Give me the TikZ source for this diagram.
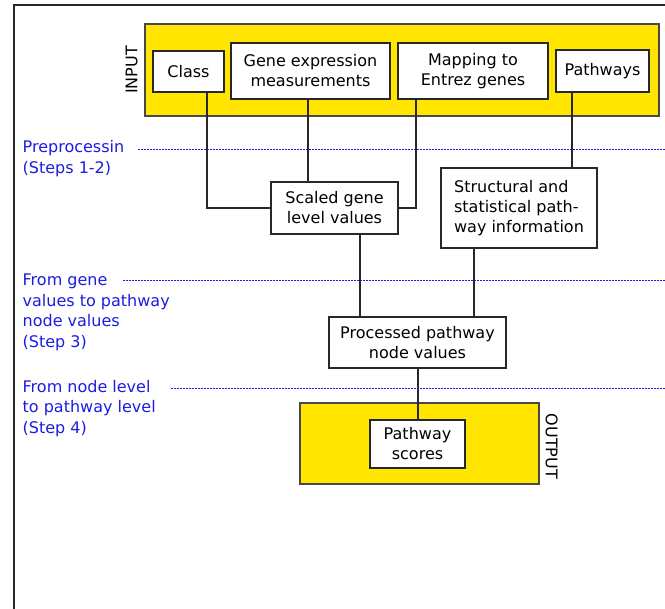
\documentclass[tikz,border=0pt]{standalone}
\usepackage{fontspec}
\setmainfont{DejaVu Sans}
\usetikzlibrary{calc}
\definecolor{yellowc}{RGB}{255,229,0}
\definecolor{lblue}{RGB}{28,28,225}
\definecolor{dk}{RGB}{40,40,40}
\begin{document}
\begin{tikzpicture}[x=1pt,y=-1pt,
  every node/.style={font=\fontsize{16}{20}\selectfont, inner sep=0pt},
  box/.style={draw=dk, line width=1.6pt, fill=white, align=center},
  ybox/.style={draw=dk!85, line width=1.3pt, fill=yellowc},
  conn/.style={draw=dk, line width=1.8pt},
  sepline/.style={draw=lblue, line width=1pt, dash pattern=on 2pt off 1pt},
  steptext/.style={text=lblue, align=left, anchor=base west, font=\fontsize{16}{20.5}\selectfont}]
\useasboundingbox (0,0) rectangle (665,609);
\draw[dk, line width=2pt] (13.5,609) -- (13.5,5.5) -- (665,5.5);

% input panel
\node[ybox, minimum width=514pt, minimum height=92pt] (input) at (402,70) {};
\node[rotate=90] (inlab) at (131.7,70) {INPUT};
\node[box, minimum width=71pt, minimum height=41pt] (class) at (188.5,71.5) {Class};
\node[box, minimum width=159pt, minimum height=56pt] (gene) at (310.5,71) {Gene expression\\measurements};
\node[box, minimum width=150pt, minimum height=56pt] (map) at (473,71) {Mapping to\\Entrez genes};
\node[box, minimum width=93pt, minimum height=42pt] (path) at (602.5,71) {Pathways};

% middle nodes
\node[box, minimum width=127pt, minimum height=52pt] (scaled) at (334.5,208) {Scaled gene\\level values};
\node[box, minimum width=156pt, minimum height=80pt, align=left] (struct) at (519,208) {Structural and\\statistical path-\\way information};
\node[box, minimum width=177pt, minimum height=51pt] (proc) at (417.5,342.5) {Processed pathway\\node values};

% output panel
\node[ybox, minimum width=239pt, minimum height=81pt] (output) at (419.5,443.5) {};
\node[rotate=-90] (outlab) at (551.7,446.5) {OUTPUT};
\node[box, minimum width=95pt, minimum height=48pt] (scores) at (417.5,444) {Pathway\\scores};

% separators
\draw[sepline] (138,150) -- (665,150);
\draw[sepline] (123,280.7) -- (665,280.7);
\draw[sepline] (171,388.3) -- (665,388.3);

% step labels (base anchor = baseline of last line)
\node[steptext] (s1) at (22.5,173.5) {Preprocessin\\(Steps 1-2)};
\node[steptext] (s2) at (22.5,347.2) {From gene\\values to pathway\\node values\\(Step 3)};
\node[steptext] (s3) at (22.5,433.3) {From node level\\to pathway level\\(Step 4)};

% connectors
\draw[conn] ([xshift=18.5pt]class.south) |- (scaled.west);
\draw[conn] ([xshift=-2.5pt]gene.south) -- ([xshift=-2.5pt]gene.south |- scaled.north);
\draw[conn] ([xshift=-57pt]map.south) |- (scaled.east);
\draw[conn] ([xshift=-30.5pt]path.south) -- ([xshift=-30.5pt]path.south |- struct.north);
\draw[conn] ([xshift=25.5pt]scaled.south) -- ([xshift=25.5pt]scaled.south |- proc.north);
\draw[conn] ([xshift=-45pt]struct.south) -- ([xshift=-45pt]struct.south |- proc.north);
\draw[conn] ([xshift=0.5pt]proc.south) -- ([xshift=0.5pt]scores.north);
\end{tikzpicture}
\end{document}
